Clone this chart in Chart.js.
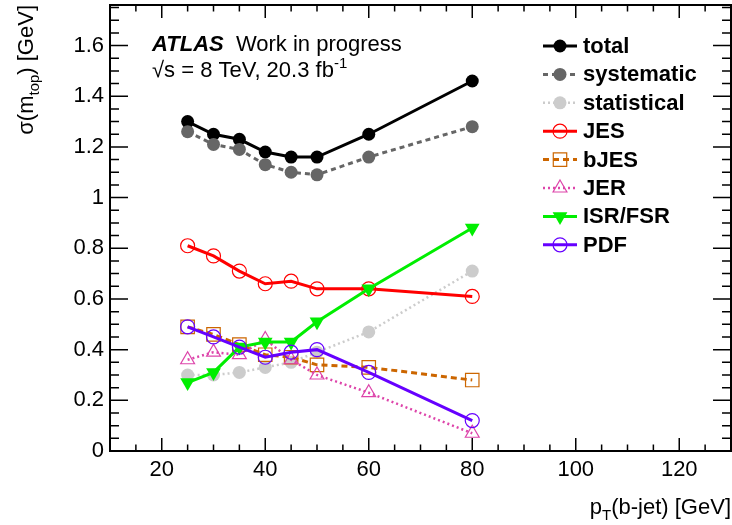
<!DOCTYPE html>
<html><head><meta charset="utf-8">
<script src="https://cdn.jsdelivr.net/npm/chart.js@4/dist/chart.umd.min.js"></script>
<style>html,body{margin:0;padding:0;background:#fff;}#wrap{width:732px;height:525px;}</style>
</head><body><div id="wrap"><canvas id="c" width="732" height="525"></canvas></div>
<script>
// ---- data ----
const ptBins      = [25, 30, 35, 40, 45, 50, 60, 80];
const total       = [1.30, 1.25, 1.23, 1.18, 1.16, 1.16, 1.25, 1.46];
const systematic  = [1.26, 1.21, 1.19, 1.13, 1.10, 1.09, 1.16, 1.28];
const statistical = [0.30, 0.30, 0.31, 0.33, 0.35, 0.39, 0.47, 0.71];
const jes         = [0.81, 0.77, 0.71, 0.66, 0.67, 0.64, 0.64, 0.61];
const bjes        = [0.49, 0.46, 0.42, 0.38, 0.37, 0.34, 0.33, 0.28];
const jer         = [0.36, 0.39, 0.38, 0.44, 0.36, 0.30, 0.23, 0.07];
const isrfsr      = [0.27, 0.31, 0.41, 0.43, 0.43, 0.51, 0.64, 0.88];
const pdf         = [0.49, 0.45, 0.41, 0.37, 0.39, 0.40, 0.31, 0.12];
const seriesNames = ['total','systematic','statistical','JES','bJES','JER','ISR/FSR','PDF'];
const xTicks = [20, 40, 60, 80, 100, 120];
const yTicks = [0, 0.2, 0.4, 0.6, 0.8, 1, 1.2, 1.4, 1.6];

const FONT = '"Liberation Sans", Arial, Helvetica, sans-serif';
const pts = arr => ptBins.map((x, i) => ({x, y: arr[i]}));

const styles = [
  {c:'#000000', w:3,   dash:[],    ps:'circle',   r:6.5, fill:true,  rot:0},
  {c:'#666666', w:3,   dash:[5,4], ps:'circle',   r:6.5, fill:true,  rot:0},
  {c:'#cccccc', w:2.5, dash:[2,3], ps:'circle',   r:6.5, fill:true,  rot:0},
  {c:'#ff0000', w:3,   dash:[],    ps:'circle',   r:7,   fill:false, rot:0},
  {c:'#cc6600', w:3,   dash:[6,4], ps:'rect',     r:9.5, fill:false, rot:0},
  {c:'#dd44aa', w:2.5, dash:[2,3], ps:'triangle', r:8,   fill:false, rot:0},
  {c:'#00ee00', w:3,   dash:[],    ps:'triangle', r:8.5, fill:true,  rot:180},
  {c:'#6600ff', w:3,   dash:[],    ps:'circle',   r:7,   fill:false, rot:0}
];
const seriesData = [total, systematic, statistical, jes, bjes, jer, isrfsr, pdf];

const datasets = seriesData.map((arr, i) => {
  const s = styles[i];
  return {
    label: seriesNames[i], data: pts(arr), order: 7 - i,
    borderColor: s.c, borderWidth: s.w, borderDash: s.dash, tension: 0, fill: false,
    pointStyle: s.ps, pointRadius: s.r, pointRotation: s.rot,
    pointBackgroundColor: s.fill ? s.c : 'rgba(0,0,0,0)',
    pointBorderColor: s.c, pointBorderWidth: s.fill ? 0 : 1.2,
    pointHoverRadius: s.r
  };
});

function marker(ctx, s, x, y) {
  ctx.save();
  ctx.setLineDash([]);
  ctx.fillStyle = s.fill ? s.c : 'rgba(0,0,0,0)';
  ctx.strokeStyle = s.c;
  ctx.lineWidth = s.fill ? 0 : 1.2;
  if (Chart.helpers && Chart.helpers.drawPoint) {
    Chart.helpers.drawPoint(ctx, {pointStyle: s.ps, rotation: s.rot, radius: s.r, borderWidth: s.fill ? 0 : 1.2}, x, y);
  } else {
    ctx.beginPath();
    ctx.arc(x, y, s.r, 0, 2 * Math.PI);
    if (s.fill) ctx.fill(); else ctx.stroke();
  }
  ctx.restore();
}

function richText(ctx, x, y, parts) {
  let cx = x;
  for (const [t, f, dy] of parts) {
    ctx.font = f;
    ctx.fillText(t, cx, y + (dy || 0));
    cx += ctx.measureText(t).width;
  }
  return cx;
}
function richWidth(ctx, parts) {
  let w = 0;
  for (const [t, f] of parts) { ctx.font = f; w += ctx.measureText(t).width; }
  return w;
}

const rootPlugin = {
  id: 'rootStyle',
  afterDraw(chart) {
    const ctx = chart.ctx, a = chart.chartArea, xs = chart.scales.x, ys = chart.scales.y;
    ctx.save();
    ctx.strokeStyle = '#000'; ctx.lineWidth = 1.5; ctx.setLineDash([]);
    ctx.beginPath();
    for (let v = 10; v <= 130; v += 5) {
      const px = xs.getPixelForValue(v);
      const L = (v % 20 === 0) ? 13 : 6.5;
      ctx.moveTo(px, a.bottom); ctx.lineTo(px, a.bottom - L);
      ctx.moveTo(px, a.top); ctx.lineTo(px, a.top + L);
    }
    for (let i = 0; i * 0.05 <= ys.max + 1e-9; i++) {
      const py = ys.getPixelForValue(i * 0.05);
      const L = (i % 4 === 0) ? 18 : 9;
      ctx.moveTo(a.left, py); ctx.lineTo(a.left + L, py);
      ctx.moveTo(a.right, py); ctx.lineTo(a.right - L, py);
    }
    ctx.stroke();
    ctx.lineWidth = 2;
    ctx.strokeRect(a.left, a.top, a.right - a.left, a.bottom - a.top);

    ctx.fillStyle = '#000';
    ctx.textBaseline = 'alphabetic';
    ctx.textAlign = 'left';
    richText(ctx, 152, 51, [['ATLAS', 'italic bold 22px ' + FONT, 0], ['  Work in progress', '22px ' + FONT, 0]]);
    richText(ctx, 152, 77, [['\u221As = 8 TeV, 20.3 fb', '22px ' + FONT, 0], ['-1', '15px ' + FONT, -9]]);

    const lx0 = 543, lx1 = 577, lmx = 560, ltx = 583, ly0 = 46, ldy = 28.4;
    seriesNames.forEach((name, i) => {
      const s = styles[i], yy = ly0 + i * ldy;
      ctx.save();
      ctx.strokeStyle = s.c; ctx.lineWidth = s.w; ctx.setLineDash(s.dash);
      ctx.beginPath(); ctx.moveTo(lx0, yy); ctx.lineTo(lx1, yy); ctx.stroke();
      ctx.restore();
      marker(ctx, s, lmx, yy);
      ctx.fillStyle = '#000';
      ctx.font = 'bold 22px ' + FONT;
      ctx.textBaseline = 'middle';
      ctx.fillText(name, ltx, yy + 1);
    });
    ctx.textBaseline = 'alphabetic';

    const xParts = [['p', '22px ' + FONT, 0], ['T', '15px ' + FONT, 6], ['(b-jet) [GeV]', '22px ' + FONT, 0]];
    const xw = richWidth(ctx, xParts);
    richText(ctx, a.right - xw, 514, xParts);

    const yParts = [['\u03C3(m', '22px ' + FONT, 0], ['top', '15px ' + FONT, 6], [') [GeV]', '22px ' + FONT, 0]];
    const yw = richWidth(ctx, yParts);
    ctx.save();
    ctx.translate(33, a.top + yw);
    ctx.rotate(-Math.PI / 2);
    richText(ctx, 0, 0, yParts);
    ctx.restore();
    ctx.restore();
  }
};

const noPad = sc => { sc.paddingTop = 0; sc.paddingBottom = 0; sc.paddingLeft = 0; sc.paddingRight = 0; };

new Chart(document.getElementById('c'), {
  type: 'line',
  data: { datasets },
  options: {
    responsive: false, animation: false, devicePixelRatio: 1,
    layout: { autoPadding: false, padding: { top: 5, right: 1, left: 0, bottom: 0 } },
    plugins: { legend: { display: false }, tooltip: { enabled: false } },
    scales: {
      x: {
        type: 'linear', min: 10, max: 130,
        grid: { display: false, drawTicks: false }, border: { display: false },
        afterBuildTicks: sc => { sc.ticks = xTicks.map(v => ({value: v})); },
        afterFit: sc => { sc.height = 74; noPad(sc); },
        ticks: { autoSkip: false, maxRotation: 0, padding: 6, color: '#000',
                 font: { family: FONT, size: 22 }, callback: v => String(v) }
      },
      y: {
        type: 'linear', min: 0, max: 1.76,
        grid: { display: false, drawTicks: false }, border: { display: false },
        afterBuildTicks: sc => { sc.ticks = yTicks.map(v => ({value: v})); },
        afterFit: sc => { sc.width = 110; noPad(sc); },
        ticks: { autoSkip: false, padding: 6, color: '#000',
                 font: { family: FONT, size: 22 }, callback: v => String(+(+v).toFixed(1)) }
      }
    }
  },
  plugins: [rootPlugin]
});
</script>
</body></html>
